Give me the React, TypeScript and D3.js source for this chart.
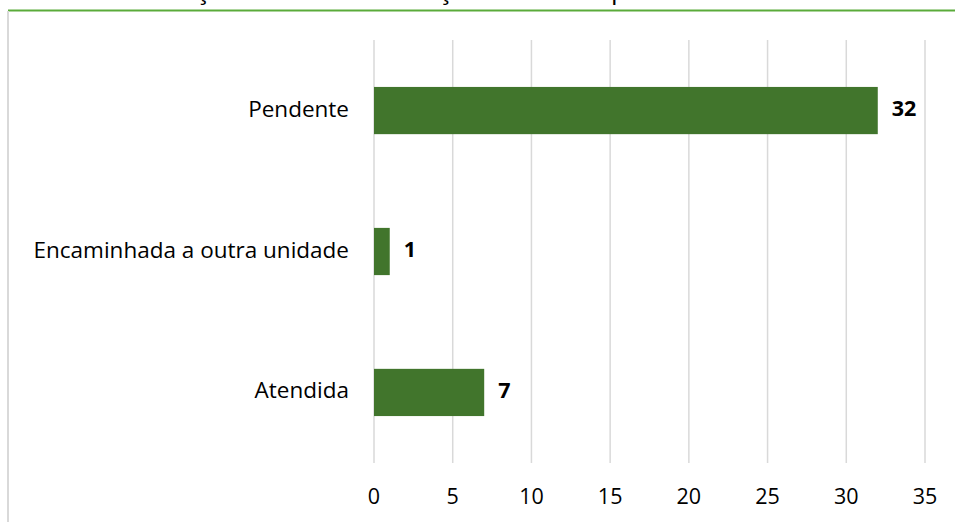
import * as d3 from 'd3';

// ── Data ──────────────────────────────────────────────────────────────────────
const CATEGORIES = ['Pendente', 'Encaminhada a outra unidade', 'Atendida'];
const VALUES = [32, 1, 7];
const X_TICKS = [0, 5, 10, 15, 20, 25, 30, 35];
const TITLE = 'Gráfico 3 – Situação das Recomendações emitidas por unidade';

// ── Layout ────────────────────────────────────────────────────────────────────
const VW = 955;
const VH = 522;
const PLOT = { left: 374, right: 925, top: 40, bottom: 463 };

// ── Colors ────────────────────────────────────────────────────────────────────
const BAR = '#41752c';
const GRID = '#d9d9d9';
const RULE = '#5aab3a';
const FONT = '"Open Sans", Lato, "Liberation Sans", sans-serif';

export default function App() {
  const x = d3.scaleLinear().domain([0, 35]).range([PLOT.left, PLOT.right]);
  const y = d3.scaleBand<string>()
    .domain(CATEGORIES)
    .range([PLOT.top, PLOT.bottom])
    .paddingInner(0.665)
    .paddingOuter(0.333);
  const bw = y.bandwidth();

  return (
    <div style={{ position: 'absolute', left: 0, top: 0 }}>
      <svg width={VW} height={VH} viewBox={`0 0 ${VW} ${VH}`} style={{ display: 'block', background: '#fff' }}>
        {/* Title, mostly cut off at the top edge (as in the source) */}
        <text x={0} y={-1} fontSize={26} fill="#000" fontFamily={FONT}>{TITLE}</text>

        {/* Frame */}
        <line x1={8} x2={VW} y1={10.5} y2={10.5} stroke={RULE} strokeWidth={2} />
        <line x1={8} x2={8} y1={11} y2={VH} stroke={GRID} strokeWidth={2} />

        {/* Vertical gridlines */}
        {X_TICKS.map(t => (
          <line key={t} x1={x(t)} x2={x(t)} y1={PLOT.top} y2={PLOT.bottom} stroke={GRID} strokeWidth={1.5} />
        ))}

        {/* Tick labels */}
        {X_TICKS.map(t => (
          <text key={t} x={x(t)} y={498} textAnchor="middle" dominantBaseline="middle"
            fontSize={21.5} fill="#000" fontFamily={FONT}>{t}</text>
        ))}

        {/* Bars */}
        {CATEGORIES.map((c, i) => {
          const yy = y(c) ?? 0;
          return (
            <g key={c}>
              <rect x={x(0)} y={yy} width={x(VALUES[i]) - x(0)} height={bw} fill={BAR} />
              <text x={x(VALUES[i]) + 14} y={yy + bw / 2} dominantBaseline="middle"
                fontSize={21.5} fontWeight={700} fill="#000" fontFamily={FONT}>{VALUES[i]}</text>
              <text x={349} y={yy + bw / 2} textAnchor="end" dominantBaseline="middle"
                fontSize={22.5} fill="#000" fontFamily={FONT}>{c}</text>
            </g>
          );
        })}
      </svg>
    </div>
  );
}
